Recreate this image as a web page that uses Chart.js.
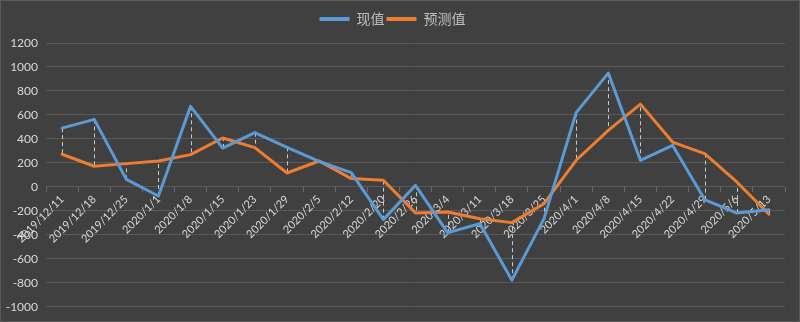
<!DOCTYPE html>
<html>
<head>
<meta charset="utf-8">
<script src="https://cdn.jsdelivr.net/npm/chart.js@4/dist/chart.umd.min.js"></script>
<style>
  html, body { margin: 0; padding: 0; background: #404040; }
  #wrap { width: 800px; height: 322px; }
</style>
</head>
<body>
<div id="wrap"><canvas id="c" width="800" height="322"></canvas></div>
<script>
// Weekly dates on the category axis
const dates = [
  '2019/12/11', '2019/12/18', '2019/12/25', '2020/1/1', '2020/1/8', '2020/1/15',
  '2020/1/23', '2020/1/29', '2020/2/5', '2020/2/12', '2020/2/20', '2020/2/26',
  '2020/3/4', '2020/3/11', '2020/3/18', '2020/3/25', '2020/4/1', '2020/4/8',
  '2020/4/15', '2020/4/22', '2020/4/29', '2020/5/6', '2020/5/13'
];

// 现值 (actual)
const actualValues = [
  490, 563, 63, -76, 672, 324, 452, 330, 212, 119, -273, 13,
  -382, -306, -778, -265, 619, 949, 222, 347, -106, -218, -190
];

// 预测值 (forecast)
const forecastValues = [
  272, 172, 194, 216, 269, 408, 327, 116, 216, 69, 55, -217,
  -209, -265, -298, -140, 222, 472, 690, 374, 277, 41, -228
];

const seriesNames = ['现值', '预测值'];

// Value axis range and step
const yMin = -1000;
const yMax = 1200;
const yStep = 200;

// Dark background with a thin frame
const backdrop = {
  id: 'backdrop',
  beforeDraw(chart) {
    const ctx = chart.ctx;
    ctx.save();
    ctx.fillStyle = '#404040';
    ctx.fillRect(0, 0, chart.width, chart.height);
    ctx.strokeStyle = '#5a5a5a';
    ctx.lineWidth = 1;
    ctx.strokeRect(0.5, 0.5, chart.width - 1, chart.height - 1);
    ctx.restore();
  }
};

// Dashed high-low lines joining the two series at every date
const hiLoLines = {
  id: 'hiLoLines',
  beforeDatasetsDraw(chart) {
    const ctx = chart.ctx;
    const xs = chart.scales.x;
    const ys = chart.scales.y;
    ctx.save();
    ctx.strokeStyle = '#c8c8c8';
    ctx.lineWidth = 1;
    ctx.setLineDash([4, 3]);
    for (let i = 0; i < dates.length; i++) {
      const x = Math.round(xs.getPixelForValue(i)) + 0.5;
      const y1 = ys.getPixelForValue(actualValues[i]);
      const y2 = ys.getPixelForValue(forecastValues[i]);
      ctx.beginPath();
      ctx.moveTo(x, y1);
      ctx.lineTo(x, y2);
      ctx.stroke();
    }
    ctx.restore();
  }
};

// Fixed legend band height so the plot starts below it
const legendBand = {
  id: 'legendBand',
  beforeLayout(chart) {
    const lg = chart.legend;
    if (lg && !lg._bandPatched) {
      const fit = lg.fit.bind(lg);
      lg.fit = function () { fit(); this.height = 33; };
      lg._bandPatched = true;
    }
  }
};

new Chart(document.getElementById('c'), {
  type: 'line',
  data: {
    labels: dates,
    datasets: [
      {
        label: seriesNames[0],
        data: actualValues,
        borderColor: '#5b9bd5',
        backgroundColor: '#5b9bd5',
        borderWidth: 3,
        pointRadius: 0,
        tension: 0,
        borderJoinStyle: 'round',
        borderCapStyle: 'round'
      },
      {
        label: seriesNames[1],
        data: forecastValues,
        borderColor: '#ed7d31',
        backgroundColor: '#ed7d31',
        borderWidth: 3,
        pointRadius: 0,
        tension: 0,
        borderJoinStyle: 'round',
        borderCapStyle: 'round'
      }
    ]
  },
  options: {
    responsive: false,
    animation: false,
    events: [],
    layout: { padding: { left: 0, right: 15, top: 10, bottom: 15 } },
    plugins: {
      tooltip: { enabled: false },
      legend: {
        position: 'top',
        align: 'center',
        labels: {
          boxWidth: 30,
          boxHeight: 4,
          padding: 2,
          color: '#bfbfbf',
          font: { family: '"Noto Sans CJK SC", sans-serif', size: 14 },
          generateLabels(chart) {
            return Chart.defaults.plugins.legend.labels.generateLabels(chart).map(l => (
              Object.assign({}, l, { lineWidth: 0, fillStyle: l.strokeStyle })
            ));
          }
        }
      }
    },
    scales: {
      x: {
        type: 'category',
        position: { y: 0 },
        offset: true,
        grid: {
          offset: true,
          drawOnChartArea: false,
          drawTicks: true,
          tickLength: 5,
          color: '#6a6a6a'
        },
        border: { display: false },
        ticks: {
          autoSkip: false,
          minRotation: 45,
          maxRotation: 45,
          padding: 1,
          color: '#d9d9d9',
          font: { family: 'Lato, "Noto Sans", sans-serif', size: 11 }
        }
      },
      y: {
        min: yMin,
        max: yMax,
        afterFit(scale) { scale.width = 46; },
        grid: { color: '#595959', lineWidth: 1, drawTicks: false },
        border: { display: false },
        ticks: {
          stepSize: yStep,
          padding: 8,
          color: '#d9d9d9',
          font: { family: 'Lato, "Noto Sans", sans-serif', size: 12 },
          callback: (v) => String(v)
        }
      }
    }
  },
  plugins: [backdrop, hiLoLines, legendBand]
});
</script>
</body>
</html>
